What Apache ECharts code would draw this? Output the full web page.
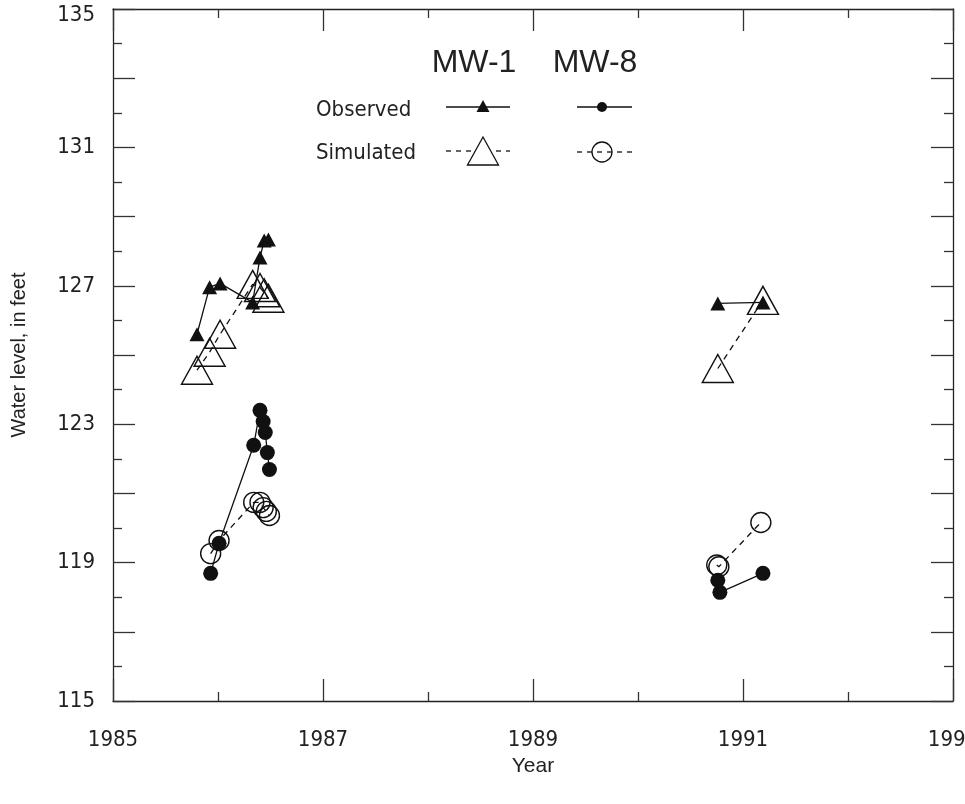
<!DOCTYPE html>
<html>
<head>
<meta charset="utf-8">
<script src="https://cdn.jsdelivr.net/npm/echarts@6/dist/echarts.min.js"></script>
<style>
  html, body { margin: 0; padding: 0; background: #fff; }
  #main { width: 965px; height: 804px; }
</style>
</head>
<body>
<div id="main"></div>
<script>
// MW-1, 1985-86 period
const mw1Years86 = [1985.80, 1985.92, 1986.02, 1986.33, 1986.40, 1986.44, 1986.48];
const mw1Obs86 = [125.6, 126.96, 127.07, 126.52, 127.82, 128.31, 128.34];
const mw1Sim86 = [124.56, 125.08, 125.6, 127.04, 126.95, 126.8, 126.64];
// MW-1, 1990-91 period
const mw1Years91 = [1990.76, 1991.19];
const mw1Obs91 = [126.49, 126.52];
const mw1Sim91 = [124.61, 126.58];
// MW-8, 1985-86 period
const mw8ObsYears86 = [1985.93, 1986.01, 1986.34, 1986.40, 1986.43, 1986.45, 1986.47, 1986.49];
const mw8Obs86 = [118.69, 119.56, 122.39, 123.40, 123.08, 122.76, 122.18, 121.69];
const mw8SimYears86 = [1985.93, 1986.01, 1986.34, 1986.40, 1986.43, 1986.46, 1986.49];
const mw8Sim86 = [119.26, 119.64, 120.74, 120.74, 120.59, 120.48, 120.36];
// MW-8, 1990-91 period
const mw8ObsYears91 = [1990.76, 1990.78, 1991.19];
const mw8Obs91 = [118.49, 118.14, 118.69];
const mw8SimYears91 = [1990.75, 1990.77, 1991.17];
const mw8Sim91 = [118.93, 118.88, 120.16];

const narrow = "'Liberation Sans Narrow', 'DejaVu Sans Condensed', sans-serif";
const pair = (xs, ys) => xs.map((x, i) => [x, ys[i]]);

const chart = echarts.init(document.getElementById('main'));

function axisX(show) {
  return {
    type: 'value', min: 1985, max: 1993, interval: 2,
    position: show ? 'bottom' : 'top',
    name: show ? 'Year' : '',
    nameLocation: 'middle', nameGap: 52,
    nameTextStyle: { fontFamily: 'Liberation Sans', fontSize: 21, color: '#222' },
    axisLine: { show: true, lineStyle: { color: '#222', width: 1.3 } },
    axisTick: { show: true, inside: true, length: 22, lineStyle: { color: '#333', width: 1.3 } },
    minorTick: { show: true, splitNumber: 2, length: 9, lineStyle: { color: '#333', width: 1.3 } },
    axisLabel: {
      show: show, margin: 28, fontFamily: narrow, fontSize: 22, color: '#222',
      showMaxLabel: true, formatter: v => String(v)
    },
    splitLine: { show: false }
  };
}
function axisY(show) {
  return {
    type: 'value', min: 115, max: 135, interval: 2,
    position: show ? 'left' : 'right',
    name: show ? 'Water level, in feet' : '',
    nameLocation: 'middle', nameGap: 84, nameRotate: 90,
    nameTextStyle: { fontFamily: 'Liberation Sans', fontSize: 20, color: '#222' },
    axisLine: { show: true, lineStyle: { color: '#222', width: 1.3 } },
    axisTick: { show: true, inside: true, length: 22, lineStyle: { color: '#333', width: 1.3 } },
    minorTick: { show: true, splitNumber: 2, length: 9, lineStyle: { color: '#333', width: 1.3 } },
    axisLabel: {
      show: show, margin: 18, fontFamily: narrow, fontSize: 22, color: '#222',
      formatter: v => {
        if ((v - 115) % 4 !== 0) return '';
        return v === 135 ? '{top|' + v + '}' : String(v);
      },
      rich: { top: { fontFamily: narrow, fontSize: 22, color: '#222', padding: [12, 0, 0, 0] } }
    },
    splitLine: { show: false }
  };
}

function obsSeries(data, symbol, size) {
  return {
    type: 'line', data: data, symbol: symbol, symbolSize: size,
    itemStyle: { color: '#111' },
    lineStyle: { color: '#111', width: 1.3 },
    animation: false, z: 3
  };
}
function simSeries(data, symbol, size) {
  return {
    type: 'line', data: data, symbol: symbol, symbolSize: size,
    itemStyle: { color: 'rgba(255,255,255,0)', borderColor: '#111', borderWidth: 1.4 },
    lineStyle: { color: '#111', width: 1.3, type: [6, 5] },
    animation: false, z: 2
  };
}

const legendText = (txt, x, y, size, font, align) => ({
  type: 'text', x: x, y: y,
  style: { text: txt, fontSize: size, fontFamily: font, fill: '#222', align: align, verticalAlign: 'middle' }
});
const seg = (x1, x2, y, dashed) => ({
  type: 'line', shape: { x1: x1, y1: y, x2: x2, y2: y },
  style: { stroke: '#111', lineWidth: 1.3, lineDash: dashed ? [5, 5] : null }
});

const option = {
  backgroundColor: '#fff',
  grid: { left: 113, right: 12, top: 9, bottom: 103, outerBoundsMode: 'none', containLabel: false },
  xAxis: [axisX(true), axisX(false)],
  yAxis: [axisY(true), axisY(false)],
  series: [
    simSeries(pair(mw1Years86, mw1Sim86), 'triangle', [31, 28]),
    simSeries(pair(mw1Years91, mw1Sim91), 'triangle', [31, 28]),
    simSeries(pair(mw8SimYears86, mw8Sim86), 'circle', 20),
    simSeries(pair(mw8SimYears91, mw8Sim91), 'circle', 20),
    obsSeries(pair(mw1Years86, mw1Obs86), 'triangle', [15, 14]),
    obsSeries(pair(mw1Years91, mw1Obs91), 'triangle', [15, 14]),
    obsSeries(pair(mw8ObsYears86, mw8Obs86), 'circle', 15),
    obsSeries(pair(mw8ObsYears91, mw8Obs91), 'circle', 15)
  ],
  graphic: [
    legendText('MW-1', 474, 63, 32, 'Liberation Sans', 'center'),
    legendText('MW-8', 595, 63, 32, 'Liberation Sans', 'center'),
    legendText('Observed', 316, 110, 22, narrow, 'left'),
    legendText('Simulated', 316, 153, 22, narrow, 'left'),
    seg(446, 510, 107, false),
    { type: 'polygon', shape: { points: [[483, 100], [476.5, 112], [489.5, 112]] }, style: { fill: '#111' } },
    seg(577, 632, 107, false),
    { type: 'circle', shape: { cx: 602, cy: 107, r: 5 }, style: { fill: '#111' } },
    seg(446, 510, 151, true),
    { type: 'polygon', shape: { points: [[483, 137], [467.5, 165], [498.5, 165]] }, style: { fill: '#fff', stroke: '#111', lineWidth: 1.3 } },
    seg(577, 632, 152, true),
    { type: 'circle', shape: { cx: 602, cy: 152, r: 10 }, style: { fill: 'rgba(255,255,255,0)', stroke: '#111', lineWidth: 1.3 } }
  ]
};
chart.setOption(option);
</script>
</body>
</html>
